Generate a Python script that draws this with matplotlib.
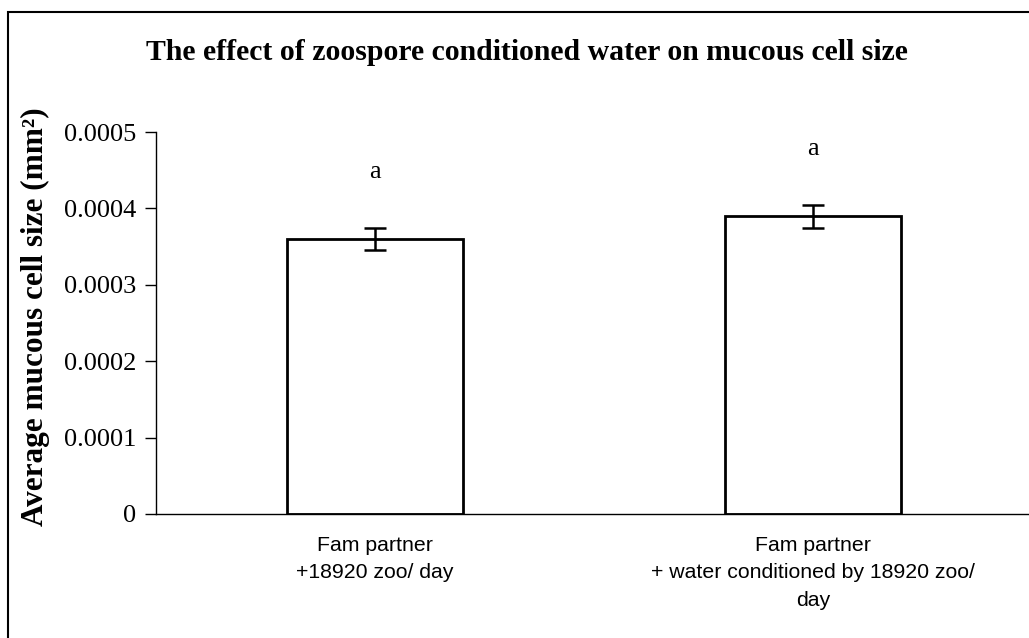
import matplotlib
matplotlib.use('Agg')
import matplotlib.pyplot as plt
import matplotlib.patches as mpatches
import numpy as np

# ── data ──
groups = ['Fam partner\n+18920 zoo/ day',
          'Fam partner\n+ water conditioned by 18920 zoo/\nday']
means = [0.00036, 0.00039]
errs = [0.0000144, 0.000015]
letters = ['a', 'a']
yticks = [0, 0.0001, 0.0002, 0.0003, 0.0004, 0.0005]
yticklabels = ['0', '0.0001', '0.0002', '0.0003', '0.0004', '0.0005']

SERIF = 'Liberation Serif'
SANS = 'Liberation Sans'

fig = plt.figure(figsize=(10.29, 6.38), dpi=100)
ax = fig.add_axes([0.1516, 0.1944, 0.8514, 0.5986])

# ── outer frame (cut off at right and bottom) ──
fig.patches.append(mpatches.Rectangle((0.0073, -0.2), 1.2, 0.9817 + 0.2,
                                      transform=fig.transFigure, fill=False,
                                      edgecolor='black', linewidth=1.5))

x = np.arange(len(groups))
ax.bar(x, means, 0.4, color='white', edgecolor='black', linewidth=2, zorder=2)
ax.errorbar(x, means, yerr=errs, fmt='none', ecolor='black', elinewidth=1.8,
            capsize=8, capthick=1.8, zorder=3)
for i, (m, e, t) in enumerate(zip(means, errs, letters)):
    ax.text(i, m + e + 0.000073, t, ha='center', va='center',
            fontsize=19, family=SERIF)

ax.set_xlim(-0.5, 1.5)
ax.set_ylim(0, 0.0005)
ax.set_yticks(yticks)
ax.set_yticklabels(yticklabels, fontsize=19, family=SERIF)
ax.set_xticks(x)
ax.set_xticklabels(groups, fontsize=15.3, family=SANS, linespacing=1.55)
ax.tick_params(axis='x', length=0, pad=16)
ax.tick_params(axis='y', direction='out', length=8, width=1, pad=6)
ax.spines['top'].set_visible(False)
ax.spines['right'].set_visible(False)
ax.spines['left'].set_linewidth(1)
ax.spines['bottom'].set_linewidth(1)

ax.set_ylabel('Average mucous cell size (mm²)', fontsize=22.5,
              family=SERIF, fontweight='bold')
ax.yaxis.set_label_coords(-0.121, 0.516)
fig.text(0.512, 0.918, 'The effect of zoospore conditioned water on mucous cell size',
         ha='center', va='center', fontsize=21.4, family=SERIF, fontweight='bold')

fig.savefig('out.png', dpi=100, facecolor='white')
